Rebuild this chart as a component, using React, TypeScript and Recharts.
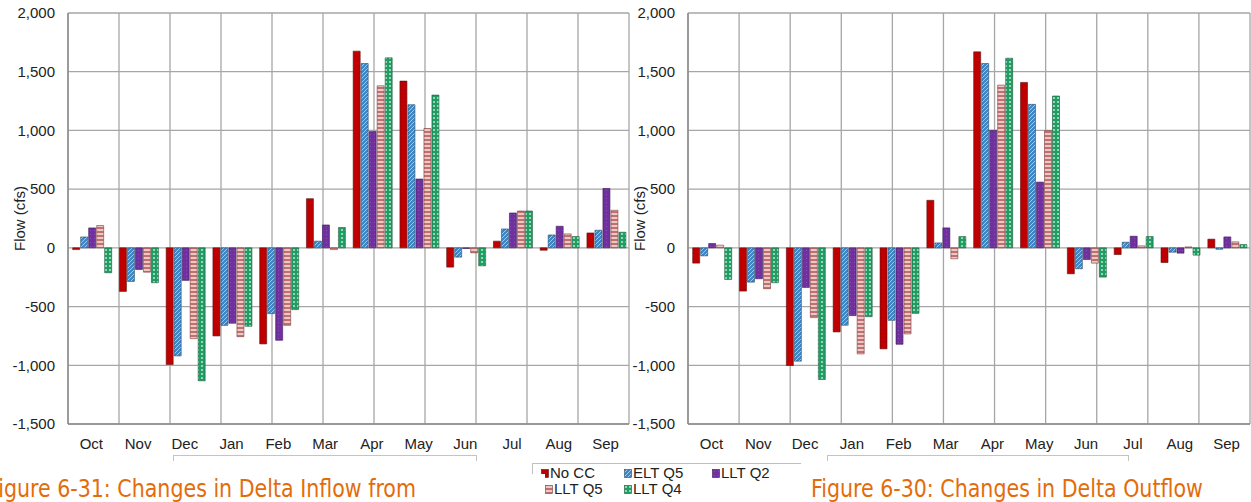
import React from 'react';
import { BarChart, Bar, XAxis, YAxis, CartesianGrid } from 'recharts';

const months = ['Oct', 'Nov', 'Dec', 'Jan', 'Feb', 'Mar', 'Apr', 'May', 'Jun', 'Jul', 'Aug', 'Sep'];

// Figure 6-31: Changes in Delta Inflow
const inflowNoCC = [-15, -371, -993, -750, -818, 419, 1675, 1420, -164, 57, -20, 127];
const inflowEltQ5 = [93, -286, -920, -660, -560, 57, 1570, 1219, -79, 161, 110, 150];
const inflowLltQ2 = [170, -184, -277, -642, -787, 195, 990, 586, -5, 297, 184, 506];
const inflowLltQ5 = [190, -207, -773, -756, -660, -15, 1380, 1016, -42, 314, 119, 320];
const inflowLltQ4 = [-212, -297, -1132, -668, -526, 173, 1618, 1301, -153, 314, 96, 133];

// Figure 6-30: Changes in Delta Outflow
const outflowNoCC = [-130, -368, -1002, -716, -860, 405, 1669, 1409, -221, -57, -125, 74];
const outflowEltQ5 = [-68, -292, -965, -659, -617, 42, 1570, 1222, -178, 48, -37, -12];
const outflowLltQ2 = [37, -263, -337, -577, -821, 170, 1001, 560, -99, 99, -45, 93];
const outflowLltQ5 = [23, -348, -594, -903, -733, -93, 1386, 999, -130, 17, 8, 51];
const outflowLltQ4 = [-269, -297, -1121, -586, -558, 96, 1615, 1293, -249, 96, -62, 28];

const yTicks = [-1500, -1000, -500, 0, 500, 1000, 1500, 2000];
const yMinorTicks = Array.from({ length: 36 }, (_, i) => -1500 + i * 100);
const gridTicks = Array.from({ length: 13 }, (_, i) => i);

const leftCaption = 'Figure 6-31: Changes in Delta Inflow from';
const rightCaption = 'Figure 6-30: Changes in Delta Outflow';
const yLabel = 'Flow (cfs)';

const series = [
  { key: 'noCC', name: 'No CC', fill: 'url(#pNoCC)', stroke: '#5a1010' },
  { key: 'eltQ5', name: 'ELT Q5', fill: 'url(#pElt)', stroke: '#2a4a66' },
  { key: 'lltQ2', name: 'LLT Q2', fill: 'url(#pQ2)', stroke: '#3a1a55' },
  { key: 'lltQ5', name: 'LLT Q5', fill: 'url(#pQ5)', stroke: '#7a3a3a' },
  { key: 'lltQ4', name: 'LLT Q4', fill: 'url(#pQ4)', stroke: '#1d5a3a' },
];

const build = (a: number[], b: number[], c: number[], d: number[], e: number[]) =>
  months.map((m, i) => ({ month: m, noCC: a[i], eltQ5: b[i], lltQ2: c[i], lltQ5: d[i], lltQ4: e[i] }));

const inflowData = build(inflowNoCC, inflowEltQ5, inflowLltQ2, inflowLltQ5, inflowLltQ4);
const outflowData = build(outflowNoCC, outflowEltQ5, outflowLltQ2, outflowLltQ5, outflowLltQ4);

const fmt = (v: number) => v.toLocaleString('en-US');

const Patterns = () => (
  <defs>
    <pattern id="pNoCC" width="4" height="4" patternUnits="userSpaceOnUse">
      <rect width="4" height="4" fill="#c00000" />
      <rect x="1" y="1" width="1" height="1" fill="#a80000" />
    </pattern>
    <pattern id="pElt" width="4" height="4" patternUnits="userSpaceOnUse">
      <rect width="4" height="4" fill="#3f86c4" />
      <path d="M0,4 L4,0" stroke="#a8d2f2" strokeWidth="0.9" />
    </pattern>
    <pattern id="pQ2" width="4" height="4" patternUnits="userSpaceOnUse">
      <rect width="4" height="4" fill="#7030a0" />
      <rect x="2" y="2" width="1" height="1" fill="#8a50b8" />
    </pattern>
    <pattern id="pQ5" width="4" height="4" patternUnits="userSpaceOnUse">
      <rect width="4" height="4" fill="#c0706e" />
      <rect x="0" y="1.2" width="4" height="1.6" fill="#f6dcdc" />
    </pattern>
    <pattern id="pQ4" width="4" height="4" patternUnits="userSpaceOnUse">
      <rect width="4" height="4" fill="#1f9e64" />
      <rect x="1.2" y="1.2" width="1.6" height="1.6" fill="#d8f2e4" />
    </pattern>
  </defs>
);

const tickStyle = { fontSize: 15, fill: '#222', fontFamily: '"Liberation Sans", Arial, sans-serif' };

const Chart = ({ data, width, right }: { data: any[]; width: number; right: number }) => (
  <BarChart
    width={width}
    height={470}
    data={data}
    margin={{ top: 13, right, bottom: 16, left: 0 }}
    barCategoryGap="10%"
    barGap={1}
  >
    <Patterns />
    <CartesianGrid xAxisId="grid" stroke="#a6a6a6" strokeWidth={1.3} />
    <XAxis
      dataKey="month"
      tickLine={false}
      tickSize={0}
      tickMargin={14}
      axisLine={{ stroke: '#8c8c8c', strokeWidth: 1.5 }}
      tick={tickStyle}
      height={30}
      interval={0}
    />
    <XAxis xAxisId="grid" type="number" domain={[0, 12]} ticks={gridTicks} hide />
    <YAxis
      domain={[-1500, 2000]}
      ticks={yTicks}
      allowDataOverflow
      width={68}
      tickLine={false}
      tickSize={0}
      tickMargin={13}
      tickFormatter={fmt}
      tick={tickStyle}
      axisLine={{ stroke: '#8c8c8c', strokeWidth: 1.5 }}
      label={{
        value: yLabel,
        angle: -90,
        position: 'insideLeft',
        offset: 20,
        style: { textAnchor: 'middle', fontSize: 15, fill: '#222', fontFamily: '"Liberation Sans", Arial, sans-serif' },
      }}
    />
    <YAxis
      yAxisId="minor"
      domain={[-1500, 2000]}
      ticks={yMinorTicks}
      allowDataOverflow
      mirror
      tick={false}
      tickSize={5}
      tickLine={{ stroke: '#9a9a9a' }}
      axisLine={false}
    />
    {series.map((s) => (
      <Bar
        key={s.key}
        dataKey={s.key}
        name={s.name}
        fill={s.fill}
        stroke={s.stroke}
        strokeWidth={0.6}
        isAnimationActive={false}
      />
    ))}
  </BarChart>
);

const Swatch = ({ fill, stroke }: { fill: string; stroke: string }) => (
  <svg width={8} height={9} style={{ display: 'inline-block', verticalAlign: 'baseline', marginRight: 1 }}>
    <rect x={0.5} y={0.5} width={7} height={8} fill={fill} stroke={stroke} strokeWidth={0.6} />
  </svg>
);

const legendRows = [
  [
    { s: series[0], x: 541 },
    { s: series[1], x: 624 },
    { s: series[2], x: 712 },
  ],
  [
    { s: series[3], x: 545 },
    { s: series[4], x: 624 },
  ],
];

const captionStyle: React.CSSProperties = {
  position: 'absolute',
  top: 476,
  fontFamily: '"Liberation Sans Narrow", "DejaVu Sans Condensed", sans-serif',
  fontSize: 25,
  lineHeight: '25px',
  color: '#e36c0a',
  whiteSpace: 'nowrap',
  transform: 'scaleX(0.915)',
  transformOrigin: '0 0',
};

export default function App() {
  return (
    <div
      style={{
        position: 'absolute',
        left: 0,
        top: 0,
        width: 1251,
        height: 502,
        overflow: 'hidden',
        background: '#fff',
        fontFamily: '"Liberation Sans", Arial, sans-serif',
      }}
    >
      <div style={{ position: 'absolute', left: 0, top: 0 }}>
        <Chart data={inflowData} width={640} right={11} />
      </div>
      <div style={{ position: 'absolute', left: 620, top: 0 }}>
        <Chart data={outflowData} width={631} right={1} />
      </div>

      {/* bracket artifacts under the month labels */}
      <div style={{ position: 'absolute', left: 173, top: 455, width: 302, height: 5, borderTop: '1px solid #c4c4c4', borderLeft: '1px solid #c4c4c4', borderRight: '1px solid #c4c4c4' }} />
      <div style={{ position: 'absolute', left: 827, top: 455, width: 300, height: 5, borderTop: '1px solid #c4c4c4', borderLeft: '1px solid #c4c4c4', borderRight: '1px solid #c4c4c4' }} />

      {/* legend */}
      <div style={{ position: 'absolute', left: 532, top: 463, width: 268, height: 38, borderTop: '1px solid #c0c0c0', borderLeft: '1px solid #c0c0c0', borderBottom: '1px solid #d0d0d0' }} />
      {legendRows.map((row, ri) =>
        row.map((it) => (
          <div
            key={it.s.key}
            style={{
              position: 'absolute',
              left: it.x,
              top: 465 + ri * 16,
              fontSize: 15,
              lineHeight: '16px',
              color: '#222',
              whiteSpace: 'nowrap',
            }}
          >
            <Swatch fill={it.s.fill} stroke={it.s.stroke} />
            {it.s.name}
          </div>
        ))
      )}

      {/* white box of the left caption */}
      <div style={{ position: 'absolute', left: 0, top: 474, width: 545, height: 28, background: '#fff' }} />

      <div style={{ ...captionStyle, left: -12 }}>{leftCaption}</div>
      <div style={{ ...captionStyle, left: 811 }}>{rightCaption}</div>
    </div>
  );
}
